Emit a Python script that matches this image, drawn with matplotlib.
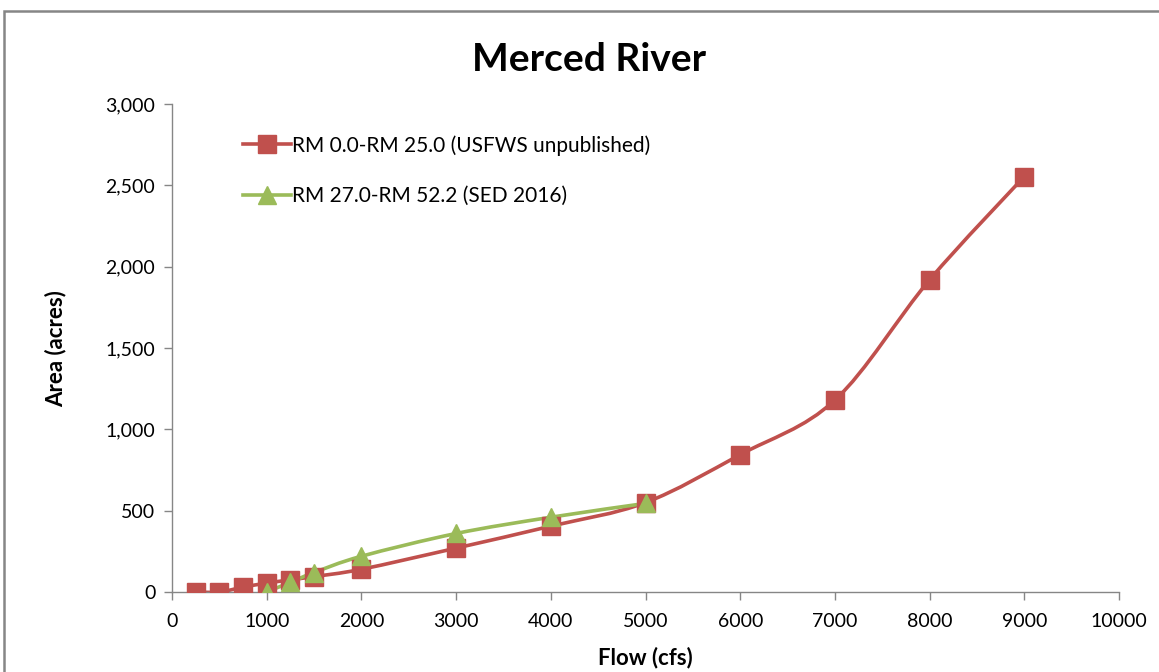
import matplotlib
matplotlib.use("Agg")
import matplotlib.pyplot as plt
from matplotlib.path import Path
from matplotlib.patches import PathPatch, Rectangle
from matplotlib.ticker import FuncFormatter, MultipleLocator
import numpy as np

plt.rcParams['font.family'] = ['Lato', 'DejaVu Sans']

# Flow (cfs) vs inundated area (acres)
flow_usfws = [250, 500, 750, 1000, 1250, 1500, 2000, 3000, 4000, 5000, 6000, 7000, 8000, 9000]
area_usfws = [0, 0, 30, 55, 75, 95, 140, 270, 405, 550, 845, 1180, 1920, 2555]

flow_sed = [1000, 1250, 1500, 2000, 3000, 4000, 5000]
area_sed = [0, 60, 120, 220, 360, 460, 545]

label_usfws = "RM 0.0-RM 25.0 (USFWS unpublished)"
label_sed = "RM 27.0-RM 52.2 (SED 2016)"

RED = "#C0504D"
GREEN = "#9BBB59"
GREY = "#868686"


def smooth_path(xs, ys):
    """Catmull-Rom style cubic Bezier path through the points."""
    pts = np.column_stack([xs, ys]).astype(float)
    n = len(pts)
    verts = [pts[0]]
    codes = [Path.MOVETO]
    for i in range(n - 1):
        p0 = pts[i - 1] if i > 0 else pts[i]
        p1 = pts[i]
        p2 = pts[i + 1]
        p3 = pts[i + 2] if i + 2 < n else pts[i + 1]
        c1 = p1 + (p2 - p0) / 6.0
        c2 = p2 - (p3 - p1) / 6.0
        verts += [c1, c2, p2]
        codes += [Path.CURVE4] * 3
    return Path(verts, codes)


fig = plt.figure(figsize=(11.59, 6.72), dpi=100)
ax = fig.add_axes([0.1484, 0.119, 0.8171, 0.726])

for xs, ys, color, marker, ms, label in [
    (flow_usfws, area_usfws, RED, "s", 13.5, label_usfws),
    (flow_sed, area_sed, GREEN, "^", 13, label_sed),
]:
    ax.add_patch(PathPatch(smooth_path(xs, ys), facecolor="none",
                           edgecolor=color, lw=2.6, zorder=2))
    ax.plot(xs, ys, ls="none", marker=marker, ms=ms, color=color, zorder=3)
    # legend proxy
    ax.plot([], [], color=color, lw=2.6, marker=marker, ms=ms, label=label)

ax.set_xlim(0, 10000)
ax.set_ylim(0, 3000)
ax.xaxis.set_major_locator(MultipleLocator(1000))
ax.yaxis.set_major_locator(MultipleLocator(500))
ax.yaxis.set_major_formatter(FuncFormatter(lambda v, p: f"{int(v):,}"))

for side in ("top", "right"):
    ax.spines[side].set_visible(False)
for side in ("left", "bottom"):
    ax.spines[side].set_color(GREY)
    ax.spines[side].set_linewidth(1.0)
ax.tick_params(axis="both", colors=GREY, labelcolor="black", labelsize=14,
               length=6, width=1.0, direction="out")
ax.tick_params(axis="x", pad=9)
ax.tick_params(axis="y", pad=6)

fig.text(0.5085, 0.912, "Merced River", ha="center", va="center",
         fontsize=28, fontweight="bold")
ax.set_ylabel("Area (acres)", fontsize=16, fontweight="bold", labelpad=28)
ax.set_xlabel("Flow (cfs)", fontsize=16, fontweight="bold", labelpad=12)

leg = ax.legend(loc="upper left", bbox_to_anchor=(0.055, 0.975), frameon=False,
                fontsize=15, handlelength=2.3, handletextpad=0.05,
                labelspacing=1.45)

# outer chart border
fig.add_artist(Rectangle((4 / 1159, -0.1), 1.2, (672 - 11) / 672 + 0.1,
                         transform=fig.transFigure, fill=False,
                         edgecolor=GREY, lw=1.8, clip_on=False))

fig.savefig("out.png", dpi=100)
